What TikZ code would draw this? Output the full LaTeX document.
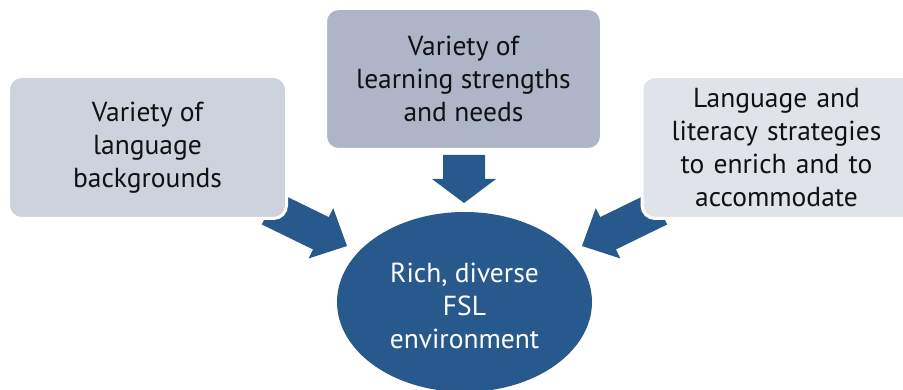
\documentclass[tikz,border=0pt]{standalone}
\usepackage{fontspec}
\setmainfont{PT Sans}
\definecolor{boxA}{HTML}{CDD2DC}
\definecolor{boxB}{HTML}{ADB5C6}
\definecolor{boxC}{HTML}{E1E3EA}
\definecolor{fslblue}{HTML}{28598C}
\definecolor{txt}{HTML}{111111}
\tikzset{
  infobox/.style={draw=white, line width=3pt, rounded corners=13pt, inner sep=0pt,
    text=txt, align=center, font=\fontsize{27.5}{33}\selectfont},
  fatarrow/.style={fill=fslblue, draw=none},
}
\newcommand{\fatarrowpath}[4]{% L h w H
  (0,0) -- (-#2,#4/2) -- (-#2,#3/2) -- (-#1,#3/2) -- (-#1,-#3/2) -- (-#2,-#3/2) -- (-#2,-#4/2) -- cycle}
\begin{document}
\begin{tikzpicture}[x=1pt,y=-1pt]
\useasboundingbox (0,0) rectangle (903,390);
\clip (0,0) rectangle (903,390);
\fill[white] (0,0) rectangle (903,390);
% arrows (drawn first, boxes cover their tails)
\coordinate (tipL) at (347,246);
\coordinate (tipR) at (582,246);
\coordinate (tipM) at (464,203);
\begin{scope}[shift={(tipL)}, rotate=-26]
  \fill[fatarrow] \fatarrowpath{86}{29}{36}{56};
\end{scope}
\begin{scope}[shift={(tipR)}, rotate=-154]
  \fill[fatarrow] \fatarrowpath{86}{29}{36}{56};
\end{scope}
\begin{scope}[shift={(tipM)}, rotate=-90]
  \fill[fatarrow] \fatarrowpath{48}{24}{42}{64};
\end{scope}
% boxes
\node[infobox, fill=boxA, minimum width=278pt, minimum height=142pt] (lang) at (147.5,147.5)
  {Variety of\\language\\backgrounds};
\node[infobox, fill=boxB, minimum width=276pt, minimum height=141pt] (learn) at (463.5,79)
  {Variety of\\learning strengths\\and needs};
\node[infobox, fill=boxC, minimum width=278pt, minimum height=142pt, text width=278pt] (lit) at (781,147.5)
  {\hspace*{-9pt}\parbox{260pt}{\centering Language and\\literacy strategies\\to enrich and to\\accommodate}};
% ellipse
\fill[fslblue] (464.5,302) ellipse [x radius=127.5, y radius=90];
\node[text=white, align=center, font=\fontsize{27.5}{33}\selectfont] (env) at (464.5,306)
  {Rich, diverse\\FSL\\environment};
\end{tikzpicture}
\end{document}
